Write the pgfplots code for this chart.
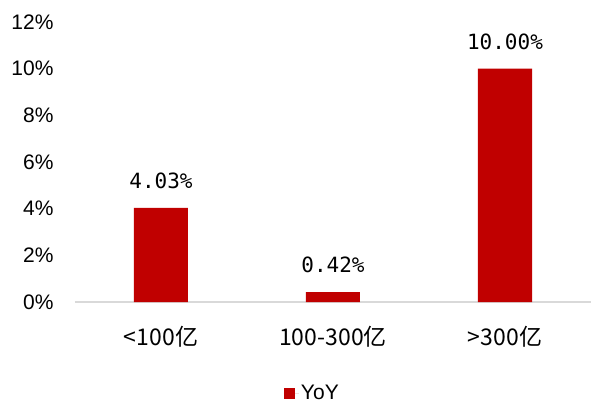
\documentclass[border=0pt]{standalone}
\usepackage{fontspec}
\setmainfont{Liberation Sans}
\newfontfamily\cjk{Noto Sans CJK SC}
\newfontfamily\mono{DejaVu Sans Mono}
\usepackage{pgfplots}
\pgfplotsset{compat=1.18}
\definecolor{barred}{HTML}{C00000}
\definecolor{axgray}{HTML}{D9D9D9}
\begin{document}
\begin{tikzpicture}
\begin{axis}[
  scale only axis,
  width=516pt, height=280pt,
  at={(0,0)}, anchor=south west,
  xmin=-0.5, xmax=2.5,
  ymin=0, ymax=12,
  ytick={0,2,4,6,8,10,12},
  yticklabel={\pgfmathprintnumber{\tick}\%},
  /pgf/number format/assume math mode=true,
  xtick={0,1,2},
  xticklabels={{<100亿},{100-300亿},{>300亿}},
  axis x line*=bottom,
  axis y line*=left,
  y axis line style={draw=none},
  x axis line style={draw=axgray, line width=1.5pt, -},
  major tick length=0pt,
  tick style={draw=none},
  yticklabel style={font=\fontsize{21}{23}\selectfont, anchor=east, xshift=-18pt},
  xticklabel style={font=\cjk\fontsize{23}{26}\selectfont, anchor=center, yshift=-35pt},
  ybar,
  bar width=54pt,
  nodes near coords={\pgfmathprintnumber[fixed,fixed zerofill,precision=2]{\pgfplotspointmeta}\%},
  every node near coord/.append style={font=\mono\fontsize{21}{24}\selectfont, anchor=center, yshift=27pt, text=black},
  legend style={draw=none, at={(0.46,-0.325)}, anchor=center, font=\fontsize{21}{24}\selectfont},
  legend image code/.code={\fill[barred] (0pt,-5.5pt) rectangle (11pt,5.5pt); \path (0pt,0pt) -- (15pt,0pt);},
]
\addplot[fill=barred, draw=none] coordinates {(0,4.03) (1,0.42) (2,10.00)};
\addlegendentry{YoY}
\end{axis}
\pgfresetboundingbox
\useasboundingbox (-75pt,-105pt) rectangle (517pt,302pt);
\end{tikzpicture}
\end{document}
